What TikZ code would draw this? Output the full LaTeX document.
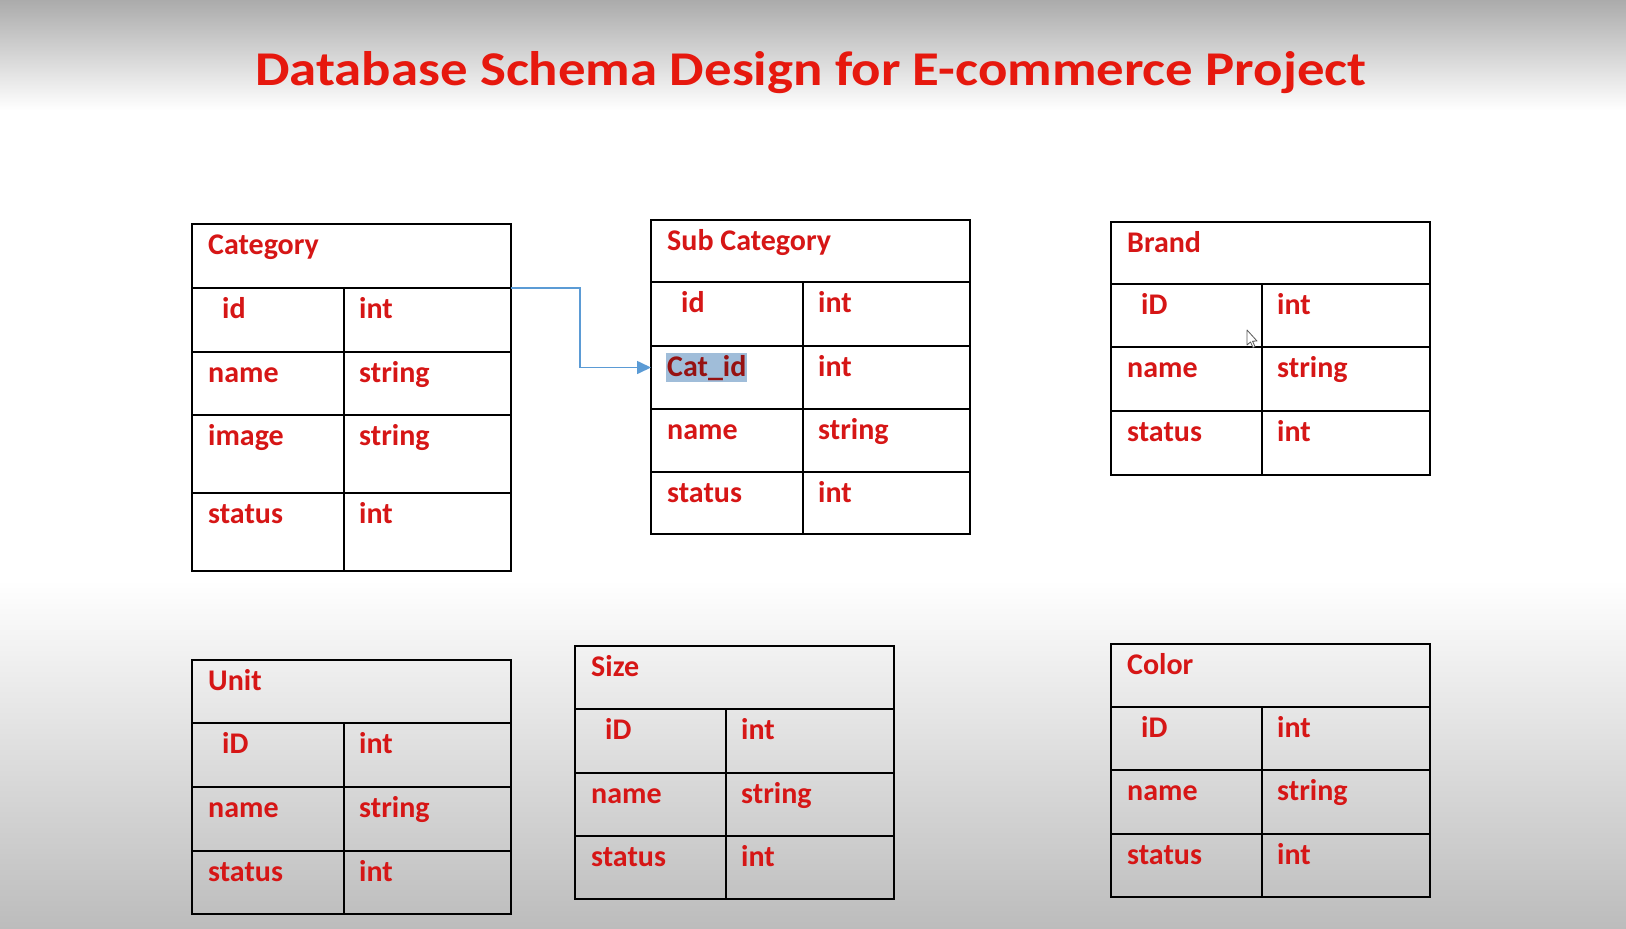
\documentclass[tikz,border=0pt]{standalone}
\usepackage{fontspec}
\setmainfont{Carlito}
\usetikzlibrary{arrows.meta}
\definecolor{cellred}{RGB}{214,22,22}
\definecolor{titlered}{RGB}{230,24,14}
\definecolor{fkblue}{RGB}{91,155,213}
\definecolor{hilite}{RGB}{160,189,217}
\definecolor{hitext}{RGB}{150,18,18}
\definecolor{bgtop}{RGB}{171,171,171}
\definecolor{bgbot}{RGB}{188,188,188}
\tikzset{
  tabbox/.style={draw=black, line width=2pt, inner sep=0pt, outer sep=0pt, anchor=north west, minimum width=319pt},
  grid/.style={draw=black, line width=2pt},
  cell/.style={anchor=base west, inner sep=0pt, text=cellred, font=\fontsize{30}{36}\selectfont\bfseries},
  fk/.style={draw=fkblue, line width=1.6pt, -{Triangle[length=14pt,width=13pt]}},
  titletext/.style={anchor=base, inner sep=0pt, text=titlered, font=\fontsize{48.5}{58}\selectfont\bfseries}
}
% #1 table, #2 row id, #3 left x, #4 top y, #5 divider x, #6 field, #7 type
\newcommand{\dbrow}[7]{%
  \draw[grid] (#3,#4) -- (#3+319,#4);
  \node[cell] (#1-#2a) at (#3+16,#4+30) {#6};
  \node[cell] (#1-#2b) at (#5+15,#4+30) {#7};
}
\newcommand{\idfield}[1]{\hspace*{14pt}#1}
\begin{document}
\begin{tikzpicture}[x=1pt,y=-1pt]
\useasboundingbox (0,0) rectangle (1626,929);
% background
\shade[top color=bgtop, bottom color=white] (0,0) rectangle (1626,110);
\fill[white] (0,110) rectangle (1626,580);
\shade[top color=white, bottom color=bgbot] (0,580) rectangle (1626,929);
% title
\node[titletext] (title) at (811,85) {\scalebox{1.13}[1]{Database Schema Design for E-commerce Project}};

% ---- Category
\node[tabbox, minimum height=347pt] (cat) at (192,224) {};
\node[cell] (cat-h) at (208,254) {Category};
\dbrow{cat}{1}{192}{288}{344}{\idfield{id}}{int}
\dbrow{cat}{2}{192}{352}{344}{name}{string}
\dbrow{cat}{3}{192}{415}{344}{image}{string}
\dbrow{cat}{4}{192}{493}{344}{status}{int}
\draw[grid] (344,288) -- (344,571);

% ---- Sub Category
\node[tabbox, minimum height=314pt] (sub) at (651,220) {};
\node[cell] (sub-h) at (667,250) {Sub Category};
\dbrow{sub}{1}{651}{282}{803}{\idfield{id}}{int}
\draw[grid] (651,346) -- (970,346);
\node[cell, fill=hilite, text=hitext, inner xsep=1pt, text height=23pt, text depth=6pt] (catid) at (666,376) {Cat\_id};
\node[cell] (sub-2b) at (818,376) {int};
\dbrow{sub}{3}{651}{409}{803}{name}{string}
\dbrow{sub}{4}{651}{472}{803}{status}{int}
\draw[grid] (803,282) -- (803,534);

% ---- Brand
\node[tabbox, minimum height=253pt] (brand) at (1111,222) {};
\node[cell] (brand-h) at (1127,252) {Brand};
\dbrow{brand}{1}{1111}{284}{1262}{\idfield{iD}}{int}
\dbrow{brand}{2}{1111}{347}{1262}{name}{string}
\dbrow{brand}{3}{1111}{411}{1262}{status}{int}
\draw[grid] (1262,284) -- (1262,475);
% mouse cursor
\filldraw[fill=white, draw=gray!70!black, line width=0.8pt, line join=round]
  (1247,330) -- (1247,345) -- (1250.5,342) -- (1253,347.5) -- (1255,346.5) -- (1252.5,341.2) -- (1257,341) -- cycle;

% ---- Unit
\node[tabbox, minimum height=254pt] (unit) at (192,660) {};
\node[cell] (unit-h) at (208,690) {Unit};
\dbrow{unit}{1}{192}{723}{344}{\idfield{iD}}{int}
\dbrow{unit}{2}{192}{787}{344}{name}{string}
\dbrow{unit}{3}{192}{851}{344}{status}{int}
\draw[grid] (344,723) -- (344,914);

% ---- Size
\node[tabbox, minimum height=253pt] (size) at (575,646) {};
\node[cell] (size-h) at (591,676) {Size};
\dbrow{size}{1}{575}{709}{726}{\idfield{iD}}{int}
\dbrow{size}{2}{575}{773}{726}{name}{string}
\dbrow{size}{3}{575}{836}{726}{status}{int}
\draw[grid] (726,709) -- (726,899);

% ---- Color
\node[tabbox, minimum height=253pt] (color) at (1111,644) {};
\node[cell] (color-h) at (1127,674) {Color};
\dbrow{color}{1}{1111}{707}{1262}{\idfield{iD}}{int}
\dbrow{color}{2}{1111}{770}{1262}{name}{string}
\dbrow{color}{3}{1111}{834}{1262}{status}{int}
\draw[grid] (1262,707) -- (1262,897);

% foreign key connector
\coordinate (catH) at (511,288);
\draw[fk] (catH) -- (580,288) |- (sub.west |- catid);
\end{tikzpicture}
\end{document}
